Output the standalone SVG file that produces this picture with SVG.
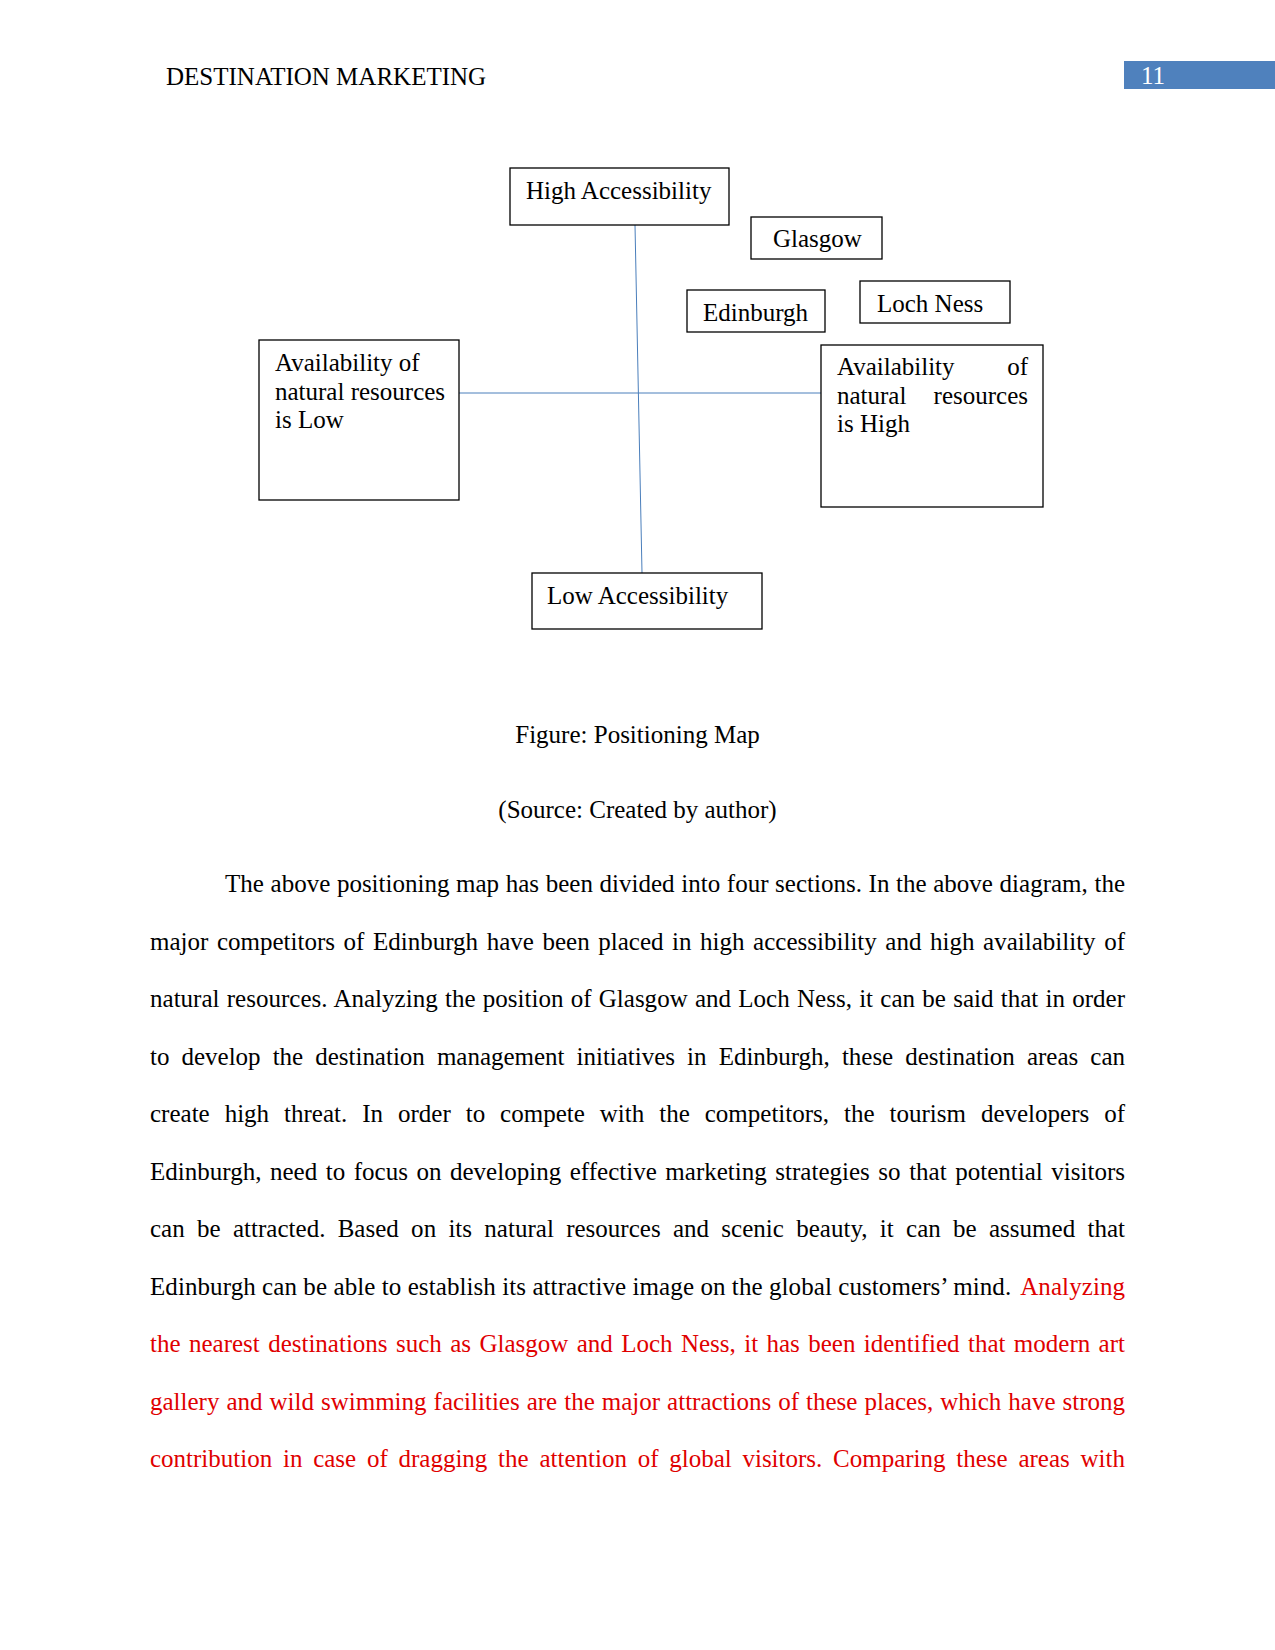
<svg xmlns="http://www.w3.org/2000/svg" width="1275" height="1650" viewBox="0 0 1275 1650">
<style>
text{font-family:"Liberation Serif","Times New Roman",serif;font-size:25px;fill:#000}
.box{fill:#fff;stroke:#000;stroke-width:1.3}
.axis{stroke:#4a7ebb;stroke-width:1;fill:none}
.red{fill:#e00000}
.w{fill:#fff}
</style>
<rect width="1275" height="1650" fill="#fff"/>
<g id="header">
<text x="166" y="85">DESTINATION MARKETING</text>
<rect x="1124" y="61" width="151" height="28" fill="#4f81bd"/>
<text class="w" x="1141" y="84">11</text>
</g>
<g id="connectors">
<line class="axis" x1="635" y1="225" x2="642" y2="573"/>
<line class="axis" x1="459" y1="393" x2="821" y2="393"/>
</g>
<g id="high-accessibility">
<rect class="box" x="510" y="168" width="219" height="57"/>
<text x="526" y="199">High Accessibility</text>
</g>
<g id="glasgow">
<rect class="box" x="751" y="217" width="131" height="42"/>
<text x="773" y="247">Glasgow</text>
</g>
<g id="edinburgh">
<rect class="box" x="687" y="290" width="138" height="42"/>
<text x="703" y="321">Edinburgh</text>
</g>
<g id="loch-ness">
<rect class="box" x="860" y="281" width="150" height="42"/>
<text x="877" y="312">Loch Ness</text>
</g>
<g id="resources-low">
<rect class="box" x="259" y="340" width="200" height="160"/>
<text x="275" y="371">Availability of</text>
<text x="275" y="399.5">natural resources</text>
<text x="275" y="428">is Low</text>
</g>
<g id="resources-high">
<rect class="box" x="821" y="345" width="222" height="162"/>
<text x="837" y="375">Availability</text>
<text x="1028" y="375" text-anchor="end">of</text>
<text x="837" y="403.5">natural</text>
<text x="1028" y="403.5" text-anchor="end">resources</text>
<text x="837" y="432">is High</text>
</g>
<g id="low-accessibility">
<rect class="box" x="532" y="573" width="230" height="56"/>
<text x="547" y="604">Low Accessibility</text>
</g>
<g id="caption">
<text x="637.5" y="743" text-anchor="middle">Figure: Positioning Map</text>
<text x="637.5" y="818" text-anchor="middle">(Source: Created by author)</text>
</g>
<g id="body">
<text x="225" y="892" word-spacing="0.4" textLength="900" lengthAdjust="spacing">The above positioning map has been divided into four sections. In the above diagram, the</text>
<text x="150" y="949.5" word-spacing="2.3" textLength="975" lengthAdjust="spacing">major competitors of Edinburgh have been placed in high accessibility and high availability of</text>
<text x="150" y="1007" word-spacing="0.96" textLength="975" lengthAdjust="spacing">natural resources. Analyzing the position of Glasgow and Loch Ness, it can be said that in order</text>
<text x="150" y="1064.5" word-spacing="5.86" textLength="975" lengthAdjust="spacing">to develop the destination management initiatives in Edinburgh, these destination areas can</text>
<text x="150" y="1122" word-spacing="8.7" textLength="975" lengthAdjust="spacing">create high threat. In order to compete with the competitors, the tourism developers of</text>
<text x="150" y="1179.5" word-spacing="2.27" textLength="975" lengthAdjust="spacing">Edinburgh, need to focus on developing effective marketing strategies so that potential visitors</text>
<text x="150" y="1237" word-spacing="6" textLength="975" lengthAdjust="spacing">can be attracted. Based on its natural resources and scenic beauty, it can be assumed that</text>
<text x="150" y="1294.5" textLength="975" lengthAdjust="spacing">Edinburgh can be able to establish its attractive image on the global customers’ mind. <tspan class="red" dx="4">Analyzing</tspan></text>
<text class="red" x="150" y="1352" word-spacing="2.14" textLength="975" lengthAdjust="spacing">the nearest destinations such as Glasgow and Loch Ness, it has been identified that modern art</text>
<text class="red" x="150" y="1409.5" word-spacing="0.76" textLength="975" lengthAdjust="spacing">gallery and wild swimming facilities are the major attractions of these places, which have strong</text>
<text class="red" x="150" y="1467" word-spacing="4.5" textLength="975" lengthAdjust="spacing">contribution in case of dragging the attention of global visitors. Comparing these areas with</text>
</g>
</svg>
